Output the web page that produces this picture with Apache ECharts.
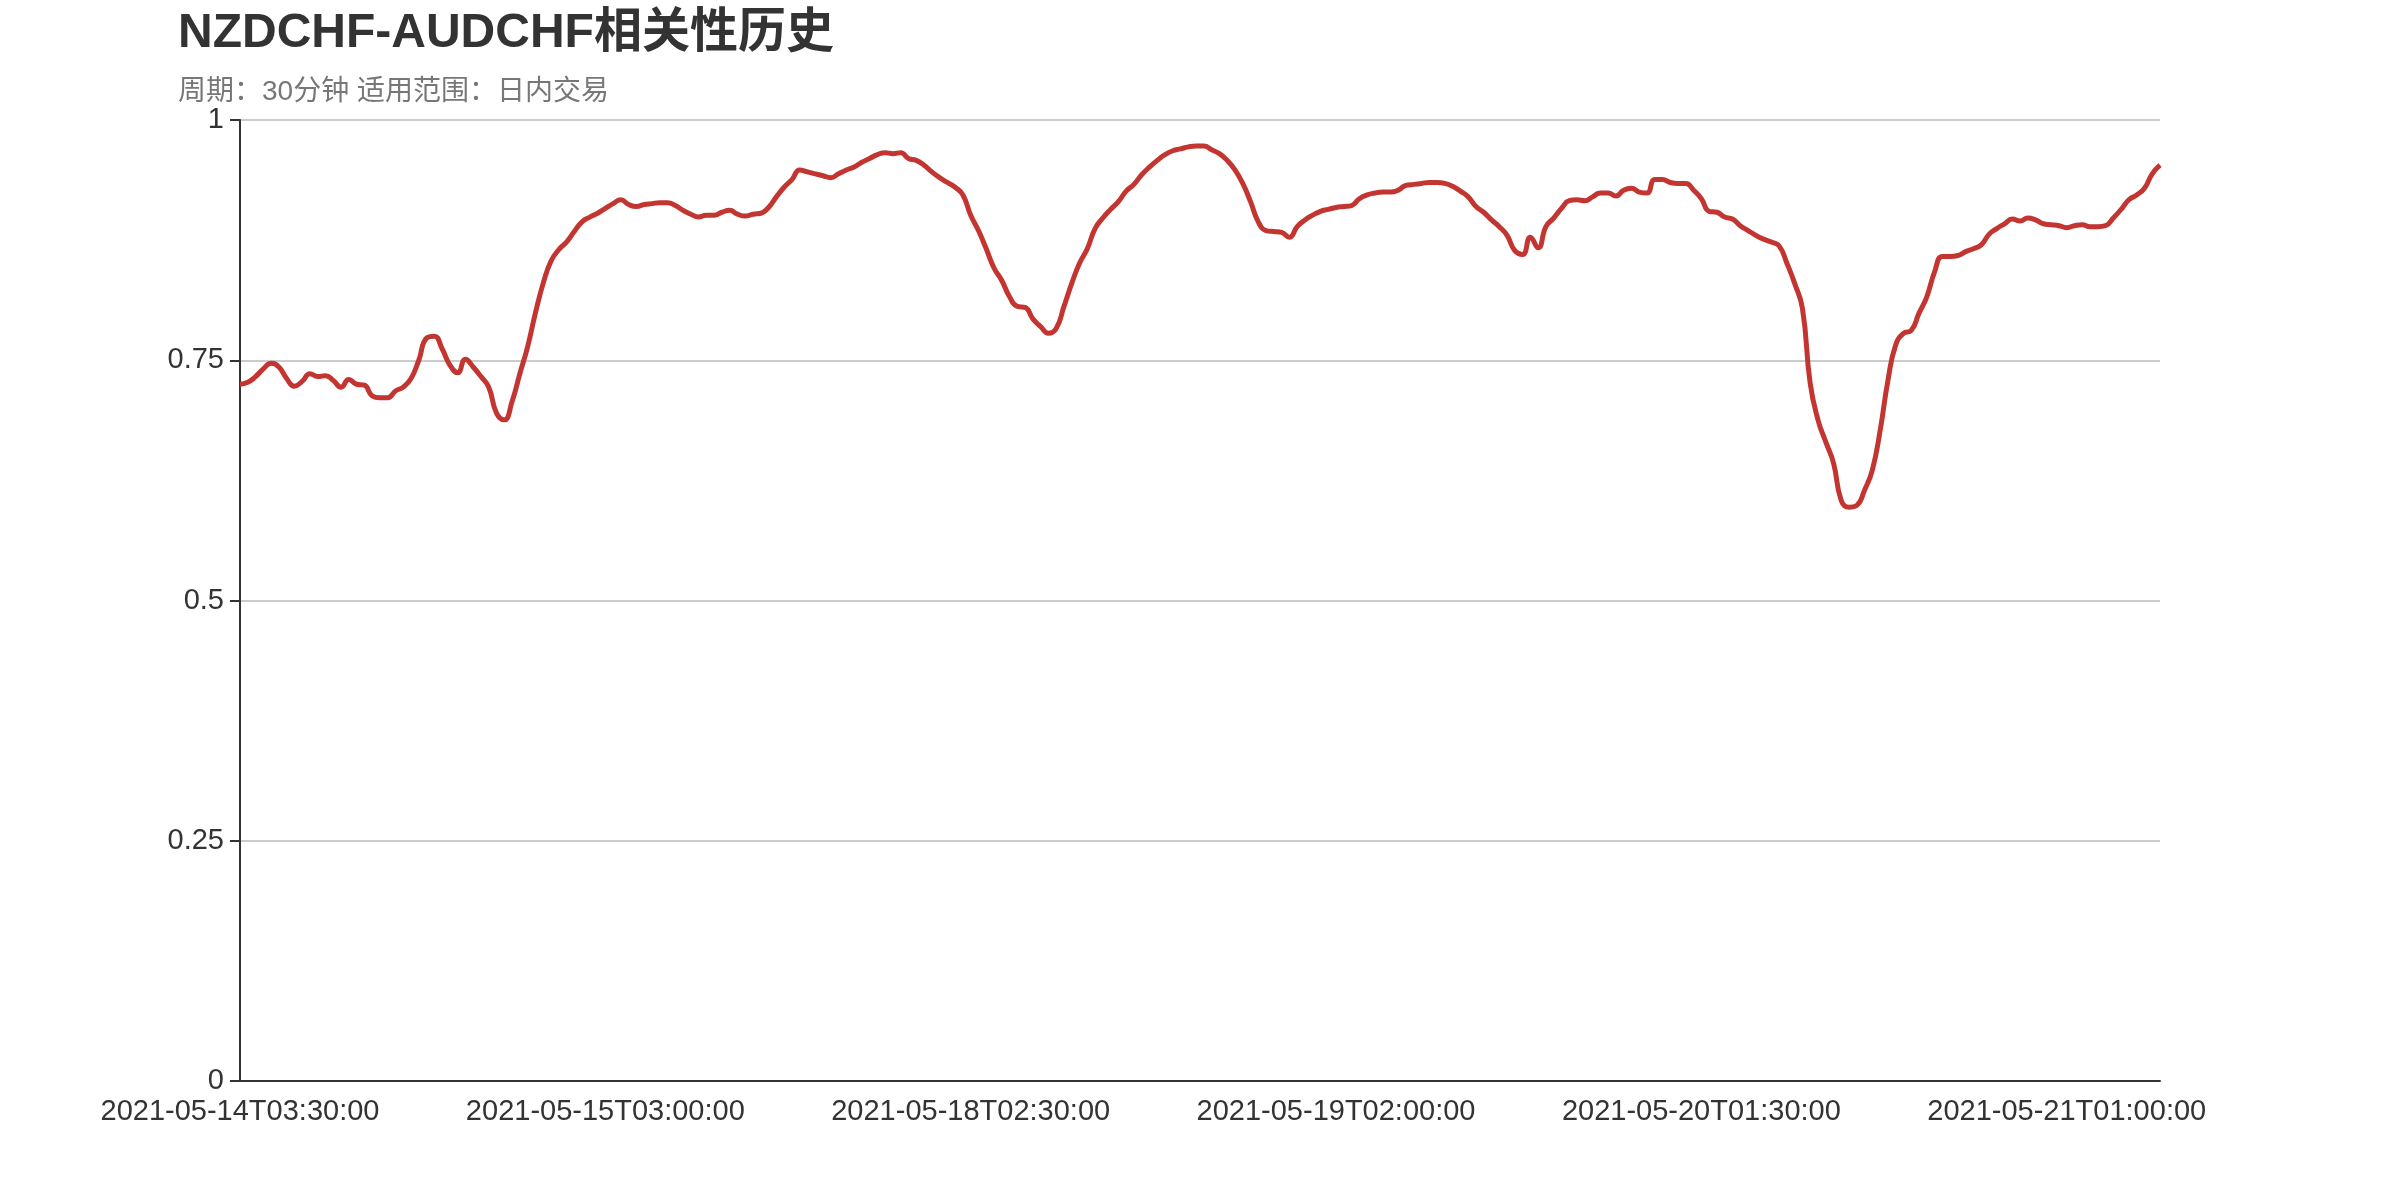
<!DOCTYPE html>
<html>
<head>
<meta charset="utf-8">
<script src="https://cdn.jsdelivr.net/npm/echarts@6/dist/echarts.min.js"></script>
<style>
html,body{margin:0;padding:0;background:#fff;}
#chart{width:2400px;height:1200px;}
</style>
</head>
<body>
<div id="chart"></div>
<script>
// Title texts
const titleText = 'NZDCHF-AUDCHF相关性历史';
const subtitleText = '周期：30分钟 适用范围：日内交易';

// Category time segments: [start, number of 30-minute bars]
const categorySegments = [
  ['2021-05-14T03:30:00', 51],
  ['2021-05-17T05:00:00', 197]
];

// Y-axis ticks
const yTicks = [0, 0.25, 0.5, 0.75, 1];

// Correlation values
const correlation = [
  0.725, 0.727, 0.733, 0.741, 0.747, 0.743, 0.731, 0.723, 0.728, 0.736,
  0.733, 0.734, 0.729, 0.722, 0.730, 0.725, 0.724, 0.713, 0.711, 0.711,
  0.718, 0.722, 0.731, 0.750, 0.773, 0.775, 0.762, 0.745, 0.737, 0.751,
  0.743, 0.733, 0.722, 0.695, 0.688, 0.707, 0.736, 0.764, 0.799, 0.830,
  0.853, 0.865, 0.873, 0.884, 0.894, 0.899, 0.903, 0.908, 0.913, 0.917,
  0.912, 0.910, 0.912, 0.913, 0.914, 0.914, 0.911, 0.906, 0.902, 0.899,
  0.901, 0.901, 0.904, 0.906, 0.902, 0.900, 0.902, 0.903, 0.909, 0.920,
  0.930, 0.938, 0.948, 0.946, 0.944, 0.942, 0.940, 0.944, 0.948, 0.951,
  0.956, 0.960, 0.964, 0.966, 0.965, 0.966, 0.960, 0.958, 0.953, 0.946,
  0.940, 0.935, 0.930, 0.922, 0.901, 0.885, 0.866, 0.846, 0.833, 0.816,
  0.806, 0.805, 0.793, 0.785, 0.778, 0.783, 0.806, 0.830, 0.851, 0.866,
  0.887, 0.898, 0.907, 0.915, 0.926, 0.933, 0.943, 0.951, 0.958, 0.964,
  0.968, 0.970, 0.972, 0.973, 0.973, 0.969, 0.965, 0.958, 0.948, 0.934,
  0.915, 0.894, 0.885, 0.884, 0.883, 0.878, 0.889, 0.896, 0.901, 0.905,
  0.907, 0.909, 0.910, 0.911, 0.918, 0.922, 0.924, 0.925, 0.925, 0.927,
  0.932, 0.933, 0.934, 0.935, 0.935, 0.934, 0.931, 0.926, 0.920, 0.910,
  0.904, 0.896, 0.889, 0.880, 0.864, 0.860, 0.878, 0.867, 0.889, 0.898,
  0.908, 0.916, 0.917, 0.916, 0.920, 0.924, 0.924, 0.921, 0.927, 0.929,
  0.925, 0.924, 0.938, 0.938, 0.935, 0.934, 0.934, 0.927, 0.918, 0.905,
  0.904, 0.899, 0.897, 0.890, 0.885, 0.880, 0.876, 0.873, 0.869, 0.851,
  0.830, 0.804, 0.726, 0.688, 0.665, 0.643, 0.604, 0.597, 0.599, 0.615,
  0.636, 0.677, 0.729, 0.766, 0.778, 0.781, 0.799, 0.816, 0.842, 0.858,
  0.858, 0.859, 0.863, 0.866, 0.870, 0.881, 0.887, 0.892, 0.897, 0.895,
  0.898, 0.896, 0.892, 0.891, 0.890, 0.888, 0.890, 0.891, 0.889, 0.889,
  0.890, 0.898, 0.907, 0.917, 0.922, 0.929, 0.944, 0.953
];

// Build category labels (30-minute timestamps) from the segments
const categories = [];
categorySegments.forEach(function (seg) {
  let t = Date.parse(seg[0] + 'Z');
  for (let k = 0; k < seg[1]; k++) {
    categories.push(new Date(t).toISOString().slice(0, 19));
    t += 30 * 60 * 1000;
  }
});

const FONT = "'Liberation Sans', Arial, 'Noto Sans CJK SC', sans-serif";

const chart = echarts.init(document.getElementById('chart'), null, { renderer: 'canvas' });
chart.setOption({
  backgroundColor: '#ffffff',
  animation: false,
  title: {
    text: titleText,
    subtext: subtitleText,
    left: 168,
    top: 0,
    padding: 10,
    itemGap: 20,
    textStyle: { fontSize: 48, fontWeight: 'bold', color: '#333', fontFamily: FONT },
    subtextStyle: { fontSize: 28, color: '#777', fontFamily: FONT }
  },
  grid: { left: 240, right: 240, top: 120, bottom: 119, containLabel: false },
  xAxis: {
    type: 'category',
    boundaryGap: false,
    data: categories,
    axisLine: { show: true, lineStyle: { color: '#333', width: 2 } },
    axisTick: { show: false },
    axisLabel: { interval: 46, margin: 16, fontSize: 29, color: '#333', fontFamily: FONT },
    splitLine: { show: false }
  },
  yAxis: {
    type: 'value',
    min: yTicks[0],
    max: yTicks[yTicks.length - 1],
    interval: yTicks[1] - yTicks[0],
    axisLine: { show: true, lineStyle: { color: '#333', width: 2 } },
    axisTick: { show: true, length: 10, lineStyle: { color: '#333', width: 2 } },
    axisLabel: { margin: 16, fontSize: 29, color: '#333', fontFamily: FONT },
    splitLine: { show: true, lineStyle: { color: '#ccc', width: 2 } }
  },
  series: [{
    type: 'line',
    data: correlation,
    smooth: true,
    showSymbol: false,
    symbol: 'none',
    lineStyle: { color: '#c23531', width: 5 },
    itemStyle: { color: '#c23531' }
  }]
});
</script>
</body>
</html>
